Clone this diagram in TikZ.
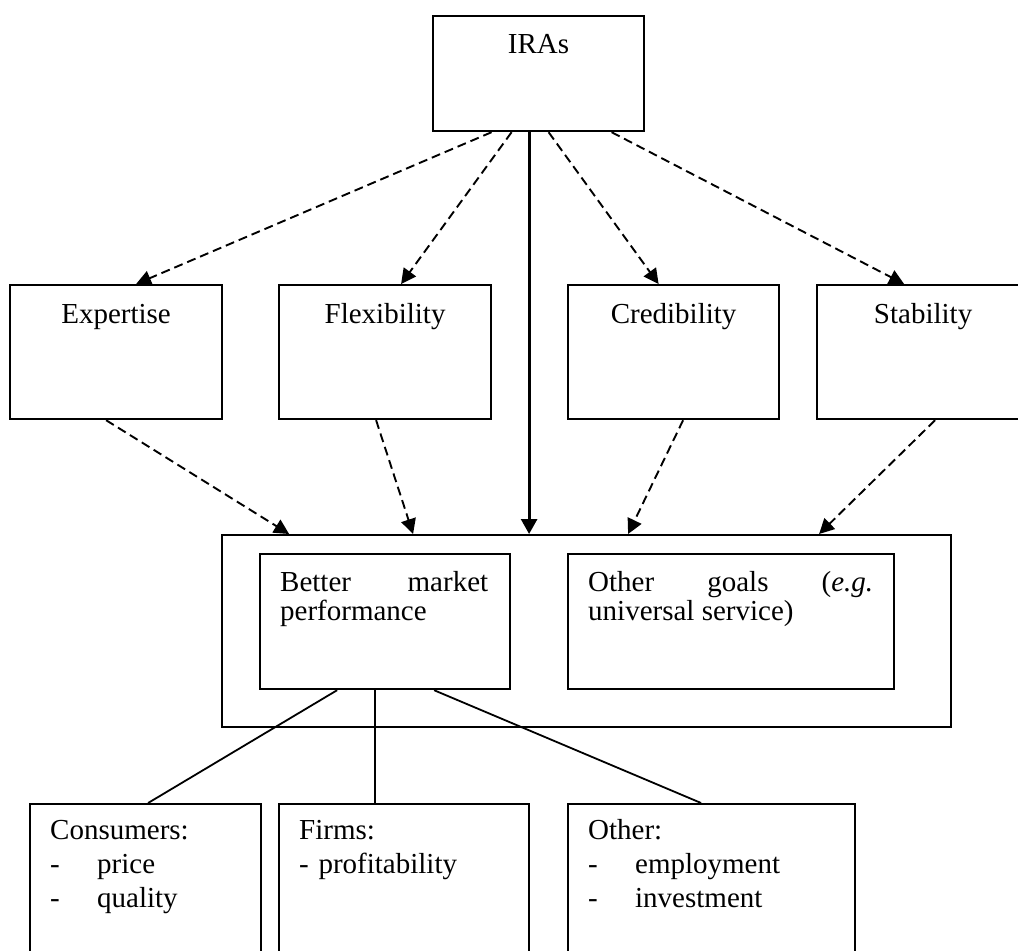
\documentclass[tikz,border=0pt]{standalone}
\usepackage{fontspec}
\setmainfont{Liberation Serif}
\usetikzlibrary{arrows.meta}
\hbadness=10000

\begin{document}
\begin{tikzpicture}[x=1pt,y=-1pt,
  box/.style={draw, line width=2.2pt, inner sep=0pt, anchor=north west},
  ttl/.style={anchor=base, inner sep=0pt, font=\fontsize{29}{29}\selectfont},
  midtxt/.style={anchor=base west, inner sep=0pt, align=justify, font=\fontsize{29}{29}\selectfont},
  lowtxt/.style={anchor=base west, inner sep=0pt, align=left, text width=190pt, font=\fontsize{29}{34}\selectfont},
  dasharrow/.style={line width=1.9pt, dash pattern=on 9pt off 5pt, -{Triangle[length=15pt,width=15pt]}},
  mainarrow/.style={line width=2.8pt, -{Triangle[length=15pt,width=16pt]}},
  link/.style={line width=1.8pt}
]
\clip (0,0) rectangle (1018,951);

% top: agencies
\node[box, minimum width=211pt, minimum height=115pt] (ira) at (432,15) {};
\node[ttl] (t-ira) at ([yshift=-38pt]ira.north) {IRAs};

% features of the agencies
\node[box, minimum width=212pt, minimum height=134pt] (exp) at (9,284) {};
\node[box, minimum width=212pt, minimum height=134pt] (flex) at (278,284) {};
\node[box, minimum width=211pt, minimum height=134pt] (cred) at (567,284) {};
\node[box, minimum width=212pt, minimum height=134pt] (stab) at (816,284) {};
\node[ttl] (t-exp) at ([yshift=-39pt]exp.north) {Expertise};
\node[ttl] (t-flex) at ([yshift=-39pt]flex.north) {Flexibility};
\node[ttl] (t-cred) at ([yshift=-39pt]cred.north) {Credibility};
\node[ttl] (t-stab) at ([yshift=-39pt]stab.north) {Stability};

% outcomes
\node[box, minimum width=729pt, minimum height=192pt] (goals) at (221,534) {};
\node[box, minimum width=250pt, minimum height=135pt] (bmp) at (259,553) {};
\node[box, minimum width=326pt, minimum height=135pt] (og) at (567,553) {};
\node[midtxt, text width=208pt] (t-bmp) at ([xshift=21pt,yshift=-38pt]bmp.north west)
  {Better market\linebreak performance};
\node[midtxt, text width=285pt] (t-og) at ([xshift=21pt,yshift=-38pt]og.north west)
  {Other goals (\emph{e.g.}\linebreak universal service)};

% stakeholders
\node[box, minimum width=231pt, minimum height=180pt] (cons) at (29,803) {};
\node[box, minimum width=250pt, minimum height=180pt] (firm) at (278,803) {};
\node[box, minimum width=287pt, minimum height=180pt] (oth) at (567,803) {};
\node[lowtxt] (t-cons) at ([xshift=21pt,yshift=-36pt]cons.north west)
  {Consumers:\\\makebox[47pt][l]{-}price\\\makebox[47pt][l]{-}quality};
\node[lowtxt] (t-firm) at ([xshift=21pt,yshift=-36pt]firm.north west)
  {Firms:\\- profitability};
\node[lowtxt] (t-oth) at ([xshift=21pt,yshift=-36pt]oth.north west)
  {Other:\\\makebox[47pt][l]{-}employment\\\makebox[47pt][l]{-}investment};

% agencies to features
\draw[dasharrow] ([xshift=-47pt]ira.south) -- ([xshift=20pt]exp.north);
\draw[dasharrow] ([xshift=-27pt]ira.south) -- ([xshift=16pt]flex.north);
\draw[dasharrow] ([xshift=10pt]ira.south) -- ([xshift=-15pt]cred.north);
\draw[dasharrow] ([xshift=73pt]ira.south) -- ([xshift=-19pt]stab.north);

% direct effect
\draw[mainarrow] ([xshift=-9.5pt]ira.south) -- ([xshift=-57.5pt]goals.north);

% features to outcomes
\draw[dasharrow] ([xshift=-10pt]exp.south) -- ([xshift=-297.5pt]goals.north);
\draw[dasharrow] ([xshift=-9pt]flex.south) -- ([xshift=-173.5pt]goals.north);
\draw[dasharrow] ([xshift=9.5pt]cred.south) -- ([xshift=41.5pt]goals.north);
\draw[dasharrow] ([xshift=12pt]stab.south) -- ([xshift=232.5pt]goals.north);

% market performance to stakeholders
\draw[link] ([xshift=-48pt]bmp.south) -- ([xshift=2.5pt]cons.north);
\draw[link] ([xshift=-10pt]bmp.south) -- ([xshift=-29pt]firm.north);
\draw[link] ([xshift=49pt]bmp.south) -- ([xshift=-10.5pt]oth.north);
\end{tikzpicture}
\end{document}
